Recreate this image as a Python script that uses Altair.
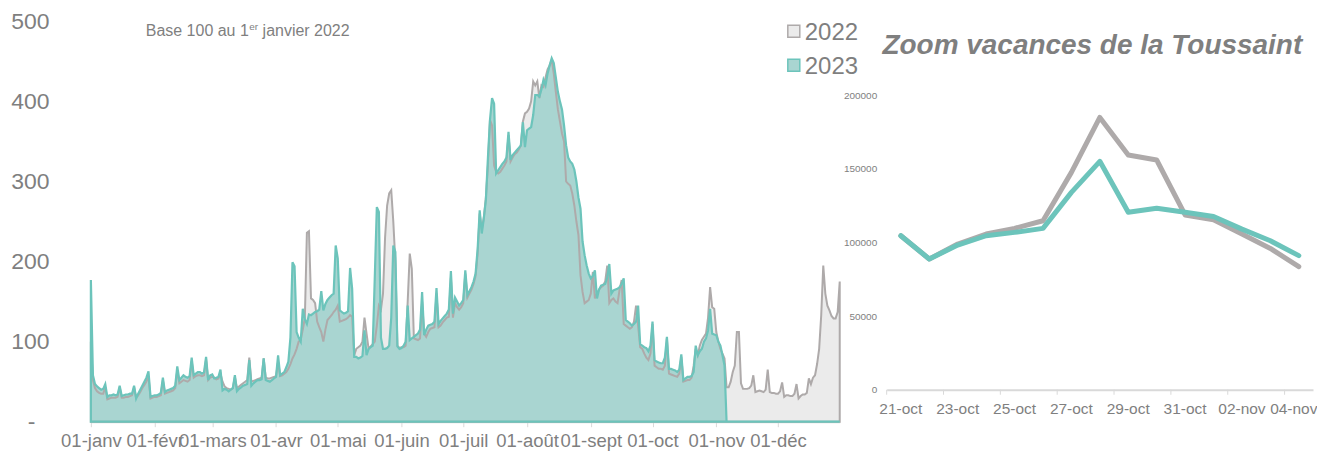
import json
import altair as alt
import pandas as pd

# ---------------- data ----------------
MONTHS = ["janv", "févr", "mars", "avr", "mai", "juin", "juil", "août", "sept", "oct", "nov", "déc"]
SERIES = ["2022", "2023"]
Y_TICKS = [0, 100, 200, 300, 400, 500]

# daily index (base 100 au 1er janvier 2022), day 0 = 1er janvier
V2022 = [
    100, 52, 42, 38, 36, 35, 35,
    43, 28, 29, 30, 30, 30, 31,
    43, 30, 30, 31, 31, 32, 33,
    43, 30, 33, 37, 42, 46, 50,
    57, 29, 30, 31, 31, 32, 33,
    52, 35, 36, 37, 38, 39, 42,
    64, 48, 50, 52, 51, 50, 52,
    76, 55, 57, 58, 58, 57, 58,
    78, 52, 55, 56, 55, 53, 54,
    60, 50, 44, 42, 41, 40, 42,
    56, 42, 44, 46, 48, 50, 52,
    80, 50, 51, 52, 53, 54, 55,
    79, 55, 54, 54, 55, 56, 57,
    75, 57, 58, 60, 62, 66, 72,
    79, 84, 91, 100, 102, 115, 129,
    236, 238, 154, 152, 148, 125, 118,
    112, 100, 115, 127, 130, 133, 137,
    140, 145, 125, 126, 127, 128, 130,
    133, 131, 83, 91, 93, 95, 100,
    130, 110, 91, 94, 97, 100, 120,
    145, 140, 160, 230, 270, 285, 289,
    250, 200, 95, 92, 93, 93, 95,
    150, 210, 191, 104, 103, 102, 104,
    150, 110, 106, 112, 116, 117, 118,
    160, 118, 120, 124, 127, 130, 131,
    180, 130, 148, 143, 140, 143, 148,
    185, 155, 160, 165, 172, 182, 210,
    260, 240, 255, 280, 320, 377, 370,
    320, 312, 310, 312, 316, 320, 325,
    358, 325, 330, 334, 336, 340, 345,
    375, 385, 387, 391, 400, 425, 420,
    425, 404, 420, 418, 430, 440, 445,
    452, 435, 412, 390, 375, 360, 350,
    300, 297, 295, 285, 270, 250, 233,
    183, 162, 148, 150, 152, 160, 187,
    154, 160, 165, 168, 170, 175, 195,
    148, 152, 154, 150, 148, 165, 177,
    122, 120, 118, 116, 118, 125, 145,
    120, 93, 91, 85, 80, 77, 85,
    122, 70, 68, 66, 66, 65, 70,
    104, 60, 59, 58, 57, 56, 60,
    81, 50, 51, 52, 52, 55, 70,
    91, 83, 95, 102, 106, 110, 130,
    168, 143, 141, 112, 100, 91, 85,
    79, 43, 43, 50, 62, 70, 112,
    112, 48, 41, 41, 41, 42, 45,
    58, 37, 38, 39, 38, 37, 40,
    65, 37, 36, 36, 35, 35, 38,
    49, 31, 33, 33, 32, 32, 35,
    47, 29, 32, 34, 34, 36, 54,
    47, 55, 58, 72, 91, 133, 195,
    160, 145, 139, 132, 129, 129, 137,
    175,
]

V2023 = [
    177, 58, 47, 44, 42, 40, 41,
    47, 31, 33, 33, 34, 33, 34,
    45, 32, 33, 34, 34, 35, 35,
    45, 29, 35, 40, 45, 50, 55,
    63, 31, 32, 33, 33, 34, 36,
    55, 37, 39, 40, 41, 42, 45,
    69, 52, 55, 58, 56, 55, 57,
    80, 58, 60, 62, 62, 60, 62,
    81, 52, 58, 59, 54, 55, 56,
    65, 39, 41, 40, 38, 40, 42,
    58, 38, 41, 43, 45, 46, 47,
    77, 45, 48, 50, 52, 52, 53,
    79, 52, 51, 50, 52, 54, 56,
    83, 58, 60, 62, 68, 75, 105,
    199, 194, 112, 105, 100, 141, 128,
    122, 134, 133, 135, 137, 138, 140,
    163, 139, 147, 152, 155, 158, 160,
    220, 204, 139, 137, 135, 136, 138,
    192, 166, 81, 81, 79, 80, 82,
    114, 83, 91, 93, 95, 180, 268,
    262, 105, 91, 91, 92, 95, 130,
    220, 212, 94, 91, 92, 95, 100,
    145, 102, 104, 106, 108, 110, 115,
    162, 108, 115, 120, 121, 122, 125,
    167, 122, 126, 129, 132, 135, 140,
    188, 135, 155, 150, 145, 148, 152,
    189, 158, 163, 168, 175, 185, 216,
    264, 235, 254, 277, 330, 377, 404,
    397, 310, 314, 318, 322, 325, 330,
    362, 327, 333, 336, 339, 342, 345,
    374, 343, 364, 366, 368, 383, 408,
    408, 406, 415, 427, 420, 435, 445,
    454, 448, 430, 412, 400, 390, 370,
    345, 330, 325, 322, 315, 300, 280,
    266, 225, 208, 195, 185, 179, 182,
    189, 154, 165, 170, 171, 172, 180,
    197, 160, 164, 165, 166, 168, 172,
    179, 127, 125, 123, 120, 122, 125,
    145, 97, 95, 93, 92, 88, 95,
    125, 77, 75, 74, 73, 73, 80,
    106, 66, 66, 65, 64, 62, 65,
    84, 52, 54, 56, 56, 57, 62,
    95, 83, 88, 91, 100, 104, 114,
    141, 110, 109, 108, 100, 95, 83,
    70, 0, 0, 0, 0, 0, 0,
    0, 0, 0, 0, 0, 0, 0,
    0, 0, 0, 0, 0, 0, 0,
    0, 0, 0, 0, 0, 0, 0,
    0, 0, 0, 0, 0, 0, 0,
    0, 0, 0, 0, 0, 0, 0,
    0, 0, 0, 0, 0, 0, 0,
    0, 0, 0, 0, 0, 0, 0,
    0,
]

ZOOM_DAYS = ["21-oct", "22-oct", "23-oct", "24-oct", "25-oct", "26-oct", "27-oct", "28-oct",
             "29-oct", "30-oct", "31-oct", "01-nov", "02-nov", "03-nov", "04-nov"]
ZOOM_2022 = [104500, 88700, 98900, 105700, 109500, 114700, 147500, 184800,
             159300, 155900, 118600, 115400, 105700, 95900, 83500]
ZOOM_2023 = [104500, 88700, 98200, 104500, 106800, 109500, 133900, 155000,
             120400, 123100, 120400, 117600, 109000, 101100, 91000]
ZOOM_Y_TICKS = [0, 50000, 100000, 150000, 200000]
ZOOM_LABEL_DAYS = ["21-oct", "23-oct", "25-oct", "27-oct", "29-oct", "31-oct", "02-nov", "04-nov"]

# ---------------- style ----------------
FONT = "Liberation Sans"
TXT = "#7f7f7f"
GRAY_LINE = "#aeaaaa"
GRAY_FILL = "#ebebeb"
TEAL_LINE = "#6cc4bb"
TEAL_FILL = "#a9d5d1"
AXIS_GRAY = "#d9d9d9"

W1, H1 = 750, 401
W2, H2 = 427, 369

dates = pd.date_range("2023-01-01", periods=365, freq="D")
df = pd.DataFrame({"date": dates, "v2022": V2022, "v2023": V2023})

month_expr = "'01-' + " + json.dumps(MONTHS, ensure_ascii=False) + "[month(datum.value)]"

x_enc = alt.X(
    "date:T",
    title=None,
    scale=alt.Scale(
        domain=[alt.DateTime(year=2023, month=1, date=1), alt.DateTime(year=2023, month=12, date=31)],
        nice=False,
    ),
    axis=alt.Axis(
        values=[alt.DateTime(year=2023, month=m, date=1) for m in range(1, 13)],
        labelExpr=month_expr,
        labelFont=FONT, labelFontSize=18.5, labelColor=TXT,
        labelPadding=5, labelOverlap=False, labelFlush=False, labelAngle=0,
        domain=True, domainColor=AXIS_GRAY, domainWidth=2,
        ticks=True, tickColor=AXIS_GRAY, tickSize=5, tickWidth=1,
        grid=False,
    ),
)

y_scale = alt.Scale(domain=[0, 500], nice=False)
y_axis = alt.Axis(
    values=Y_TICKS,
    labelExpr="datum.value == 0 ? '-' : datum.label",
    labelFont=FONT, labelFontSize=23, labelColor=TXT,
    labelPadding={"condition": {"test": "datum.value == 0", "value": 56}, "value": 42},
    ticks=False, domain=False, grid=False,
)

base = alt.Chart(df).encode(x=x_enc)

gray_fill = base.mark_area(color=GRAY_FILL).encode(
    y=alt.Y("v2022:Q", scale=y_scale, axis=y_axis, title=None)
)
teal_fill = base.mark_area(color=TEAL_FILL).encode(y=alt.Y("v2023:Q", scale=y_scale))
gray_stroke = base.mark_area(fillOpacity=0, fill=GRAY_FILL, stroke=GRAY_LINE, strokeWidth=2).encode(
    y=alt.Y("v2022:Q", scale=y_scale)
)
teal_stroke = base.mark_area(fillOpacity=0, fill=TEAL_FILL, stroke=TEAL_LINE, strokeWidth=2.2).encode(
    y=alt.Y("v2023:Q", scale=y_scale)
)

sub1 = alt.Chart(pd.DataFrame({"t": ["Base 100 au 1"]})).mark_text(
    font=FONT, fontSize=16, color=TXT, align="left", baseline="alphabetic").encode(
    x=alt.value(55), y=alt.value(15), text="t:N")
sub2 = alt.Chart(pd.DataFrame({"t": ["er"]})).mark_text(
    font=FONT, fontSize=10, color=TXT, align="left", baseline="alphabetic").encode(
    x=alt.value(158.5), y=alt.value(8.5), text="t:N")
sub3 = alt.Chart(pd.DataFrame({"t": ["janvier 2022"]})).mark_text(
    font=FONT, fontSize=16, color=TXT, align="left", baseline="alphabetic").encode(
    x=alt.value(172), y=alt.value(15), text="t:N")

leg_df22 = pd.DataFrame({"s": [SERIES[0]]})
leg_df23 = pd.DataFrame({"s": [SERIES[1]]})
leg_box22 = alt.Chart(leg_df22).mark_rect(fill=GRAY_FILL, stroke=GRAY_LINE, strokeWidth=1.5).encode(
    x=alt.value(698), x2=alt.value(710), y=alt.value(4), y2=alt.value(16))
leg_box23 = alt.Chart(leg_df23).mark_rect(fill=TEAL_FILL, stroke=TEAL_LINE, strokeWidth=1.5).encode(
    x=alt.value(698), x2=alt.value(710), y=alt.value(38), y2=alt.value(50))
leg_txt22 = alt.Chart(leg_df22).mark_text(font=FONT, fontSize=24, color=TXT, align="left", baseline="alphabetic").encode(
    x=alt.value(715), y=alt.value(18.5), text="s:N")
leg_txt23 = alt.Chart(leg_df23).mark_text(font=FONT, fontSize=24, color=TXT, align="left", baseline="alphabetic").encode(
    x=alt.value(715), y=alt.value(52.5), text="s:N")

left = alt.layer(
    gray_fill, teal_fill, gray_stroke, teal_stroke,
    sub1, sub2, sub3, leg_box22, leg_box23, leg_txt22, leg_txt23,
).properties(width=W1, height=H1)

# ---------------- right panel ----------------
zdf22 = pd.DataFrame({"jour": ZOOM_DAYS, "val": ZOOM_2022})
zdf23 = pd.DataFrame({"jour": ZOOM_DAYS, "val": ZOOM_2023})

zx_scale = alt.Scale(type="band", domain=ZOOM_DAYS, paddingInner=0, paddingOuter=0)
zx = alt.X(
    "jour:N", title=None, scale=zx_scale, sort=ZOOM_DAYS, bandPosition=0.5,
    axis=alt.Axis(
        values=ZOOM_LABEL_DAYS, labelFont=FONT, labelFontSize=15.5, labelColor=TXT,
        labelPadding=12, labelAngle=0, labelOverlap=False, labelFlush=False,
        labelOffset={"condition": {"test": f"datum.label == '{ZOOM_LABEL_DAYS[-1]}'", "value": -5}, "value": 0},
        ticks=False, tickSize=0, domain=True, domainColor=AXIS_GRAY, domainWidth=2, grid=False,
    ),
)
zy_scale = alt.Scale(domain=[0, 250000], nice=False)
zy = alt.Y(
    "val:Q", title=None, scale=zy_scale,
    axis=alt.Axis(values=ZOOM_Y_TICKS, format="d", labelFont=FONT, labelFontSize=10, labelColor=TXT,
                  labelPadding=10, ticks=False, domain=False, grid=False),
)

z22 = alt.Chart(zdf22).mark_line(color=GRAY_LINE, strokeWidth=5, strokeCap="round", strokeJoin="round").encode(x=zx, y=zy)
z23 = alt.Chart(zdf23).mark_line(color=TEAL_LINE, strokeWidth=5, strokeCap="round", strokeJoin="round").encode(
    x=alt.X("jour:N", sort=ZOOM_DAYS, bandPosition=0.5), y=alt.Y("val:Q"))
zticks = alt.Chart(pd.DataFrame({"jour": ZOOM_LABEL_DAYS})).mark_rule(color=AXIS_GRAY, strokeWidth=1).encode(
    x=alt.X("jour:N", sort=ZOOM_DAYS, bandPosition=0), y=alt.value(H2), y2=alt.value(H2 + 5))
ztitle = alt.Chart(pd.DataFrame({"t": ["Zoom vacances de la Toussaint"]})).mark_text(
    font=FONT, fontSize=28, fontWeight="bold", fontStyle="italic", color=TXT,
    align="center", baseline="alphabetic").encode(x=alt.value(206), y=alt.value(33), text="t:N")

right = alt.layer(z22, z23, zticks, ztitle).properties(width=W2, height=H2)

chart = alt.hconcat(left, right, spacing=47, bounds="flush").properties(
    padding={"left": 2, "top": 2, "right": 0, "bottom": 0}
).configure(font=FONT).configure_view(strokeWidth=0, stroke="transparent")

chart.save("out.html", embed_options={"renderer": "svg", "actions": False})
